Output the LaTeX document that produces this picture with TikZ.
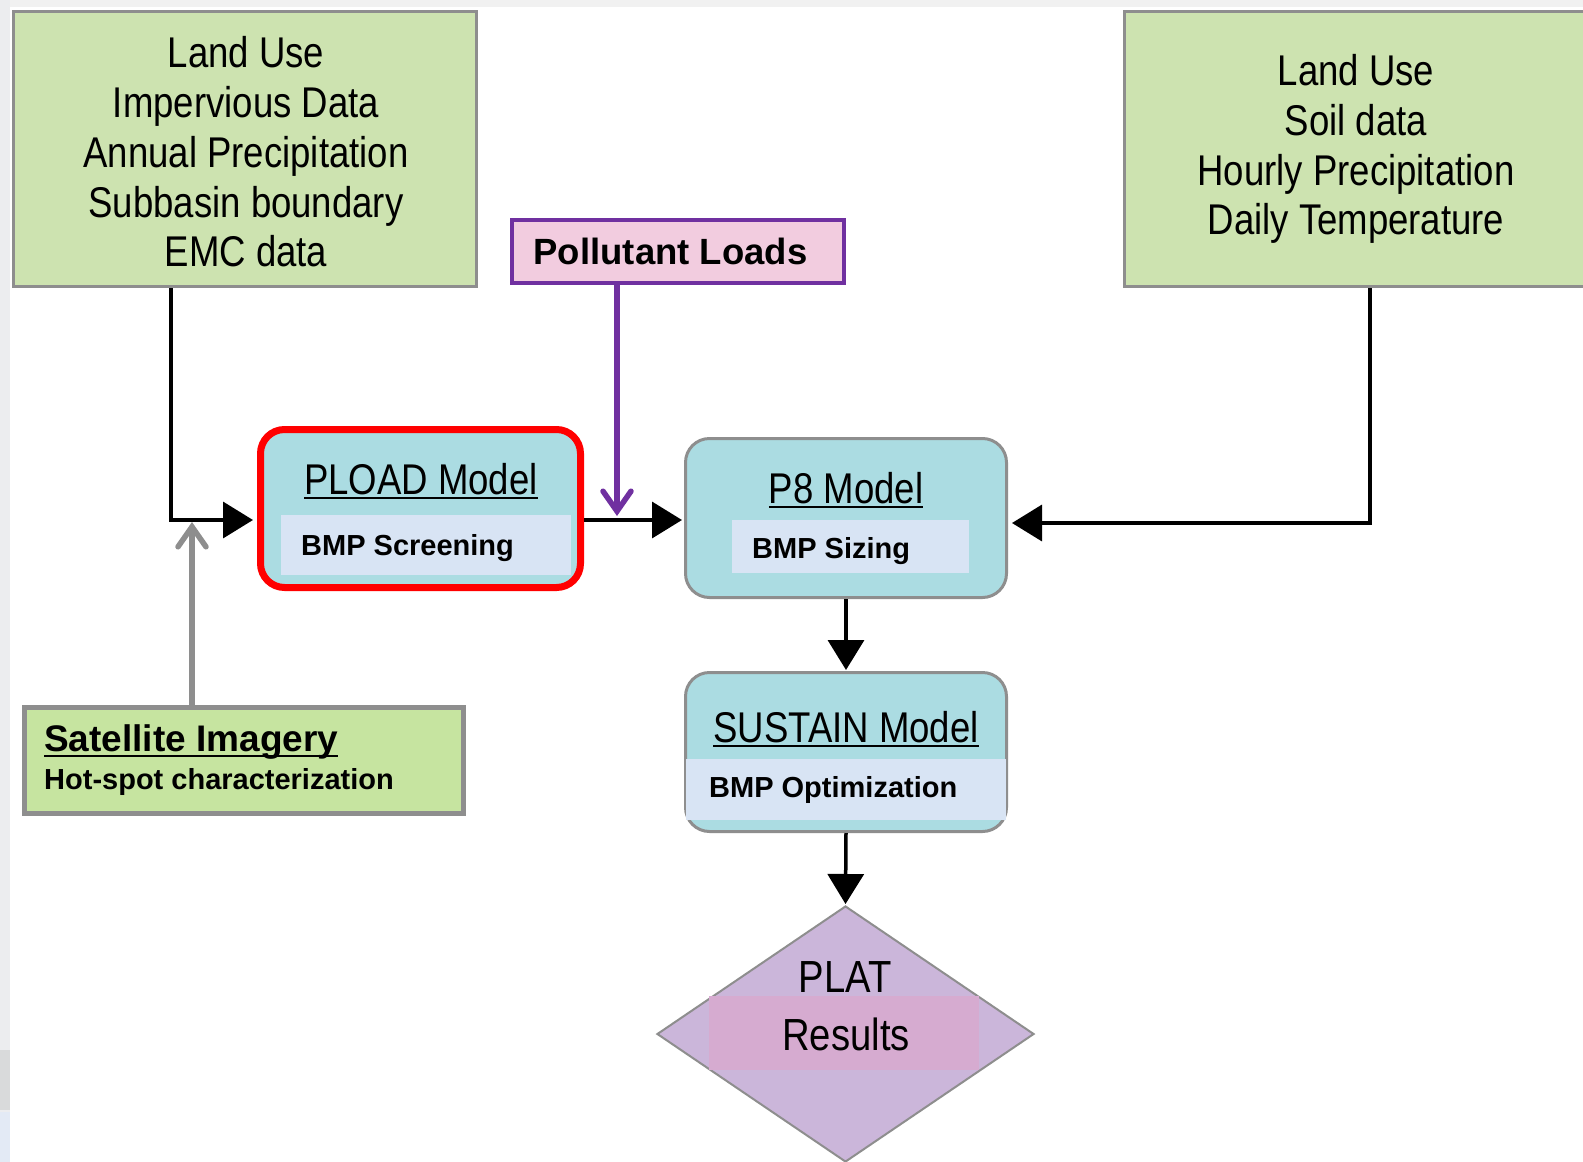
\documentclass[tikz,border=0pt]{standalone}
\usepackage{fontspec}
\setmainfont{Liberation Sans}
\newfontfamily\narrowf[FakeStretch=0.85]{Liberation Sans}
\usetikzlibrary{arrows.meta,shapes.geometric}
\definecolor{boxgreen}{HTML}{CDE3B0}
\definecolor{satgreen}{HTML}{C6E4A0}
\definecolor{modelblue}{HTML}{ABDCE2}
\definecolor{bandblue}{HTML}{D8E4F4}
\definecolor{dlav}{HTML}{CBB6DA}
\definecolor{dpink}{HTML}{D6ABD0}
\definecolor{ppink}{HTML}{F2CCDF}
\definecolor{ppurple}{HTML}{7030A0}
\definecolor{bordergray}{HTML}{8E8E8E}
\definecolor{stripgray}{HTML}{ECEDEF}
\definecolor{stripdark}{HTML}{D9DADB}
\definecolor{stripblue}{HTML}{E3EAF5}
\definecolor{topgray}{HTML}{F1F1F1}
\newcommand\ulx[2][5pt]{\setbox0\hbox{#2}\rlap{\rule[-#1]{\wd0}{2.5pt}}\box0}
\begin{document}
\begin{tikzpicture}[x=1pt,y=-1pt,
  datab/.style={draw=bordergray, line width=3pt, fill=boxgreen, inner sep=0pt},
  modelb/.style={draw=bordergray, line width=3pt, fill=modelblue, rounded corners=24pt, inner sep=0pt},
  bandb/.style={fill=bandblue, inner sep=0pt},
  biglbl/.style={font=\narrowf\fontsize{43}{49.8}\selectfont, align=center, inner sep=0pt},
  boldlbl/.style={font=\bfseries\fontsize{29}{34}\selectfont, inner sep=0pt},
  arr/.style={line width=3.5pt, -{Triangle[length=30pt,width=36pt]}},
  openarr/.style={line width=5.5pt, line cap=round, -{Straight Barb[length=20pt,width=28pt,line cap=round]}}
]
\useasboundingbox (0,0) rectangle (1583,1162);
\fill[white] (0,0) rectangle (1583,1162);
\fill[topgray] (0,0) rectangle (1583,7);
\fill[stripgray] (0,0) rectangle (10,1162);
\fill[stripdark] (0,1050) rectangle (10,1110);
\fill[stripblue] (0,1112) rectangle (10,1162);

% top data boxes
\node[datab, minimum width=463pt, minimum height=275pt] (landA) at (245,149) {};
\node[biglbl] (landAt) at (246,152) {Land Use\\Impervious Data\\Annual Precipitation\\Subbasin boundary\\EMC data};
\node[datab, minimum width=475pt, minimum height=275pt] (landB) at (1362,149) {};
\node[biglbl] (landBt) at (1356,149) {Land Use\\Soil data\\Hourly Precipitation\\Daily Temperature};

% pollutant loads
\node[draw=ppurple, line width=4pt, fill=ppink, minimum width=332pt, minimum height=63pt, inner sep=0pt] (pollut) at (678,251.5) {};
\node[font=\bfseries\fontsize{36.5}{40}\selectfont, inner sep=0pt, anchor=base] (pollutt) at (670.5,264.5) {Pollutant Loads};

% PLOAD
\node[modelb, draw=red, line width=7pt, minimum width=320pt, minimum height=158pt] (pload) at (420.5,508.5) {};
\node[bandb, minimum width=290pt, minimum height=60pt] (ploadband) at (426,545) {};
\node[biglbl, anchor=base] (ploadt) at (421,494) {\ulx{PLOAD Model}};
\node[boldlbl, anchor=base west] (ploadb) at (301,555) {BMP Screening};

% P8
\node[modelb, minimum width=321pt, minimum height=159pt] (p8) at (846,518) {};
\node[bandb, minimum width=237pt, minimum height=53pt] (p8band) at (850.5,546.5) {};
\node[biglbl, anchor=base] (p8t) at (846,503) {\ulx{P8 Model}};
\node[boldlbl, anchor=base west] (p8b) at (752,558) {BMP Sizing};

% SUSTAIN
\node[modelb, minimum width=321pt, minimum height=159pt] (sus) at (846,752) {};
\node[bandb, minimum width=320pt, minimum height=61pt] (susband) at (846,789.5) {};
\node[biglbl, anchor=base] (sust) at (846,742) {\ulx{SUSTAIN Model}};
\node[boldlbl, anchor=base west] (susb) at (709,797.5) {BMP Optimization};

% PLAT diamond
\node[diamond, draw=bordergray, line width=2pt, fill=dlav, minimum width=377pt, minimum height=256pt, inner sep=0pt] (plat) at (845.5,1034) {};
\node[fill=dpink, minimum width=270pt, minimum height=74pt, inner sep=0pt] (platband) at (844,1033) {};
\node[font=\narrowf\fontsize{45}{50}\selectfont, inner sep=0pt, anchor=base] (platt1) at (845,992) {PLAT};
\node[font=\narrowf\fontsize{45}{50}\selectfont, inner sep=0pt, anchor=base] (platt2) at (846,1050) {Results};

% satellite
\node[draw=bordergray, line width=5pt, fill=satgreen, minimum width=439pt, minimum height=106pt, inner sep=0pt] (sat) at (244,760.5) {};
\node[font=\bfseries\fontsize{37}{40}\selectfont, inner sep=0pt, anchor=base west] (satt) at (44,751) {\ulx[6pt]{Satellite Imagery}};
\node[boldlbl, anchor=base west] (satb) at (44,789.5) {Hot-spot characterization};

% connectors
\coordinate (lk) at (171,520);
\draw[arr, shorten >=4pt] (landA.south -| lk) |- (pload.west |- lk);
\coordinate (gk) at (192,522);
\draw[openarr, draw=bordergray] (sat.north -| gk) -- (gk);
\coordinate (mk) at (600,520);
\draw[arr, shorten >=2pt] (pload.east |- mk) -- (p8.west |- mk);
\coordinate (pk) at (617,516);
\draw[openarr, draw=ppurple] (pollut.south -| pk) -- (pk);
\coordinate (rk) at (1370,523);
\draw[arr, shorten >=4pt] (landB.south -| rk) |- (p8.east |- rk);
\draw[arr, shorten >=1pt] (p8.south) -- (sus.north);
\draw[arr, shorten >=1pt] (sus.south) -- (plat.north);
\end{tikzpicture}
\end{document}
